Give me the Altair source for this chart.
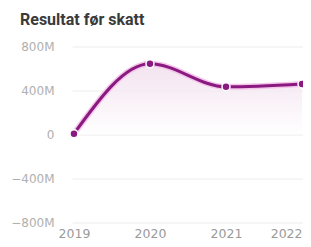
import altair as alt
import pandas as pd

years = [2019, 2020, 2021, 2022]
values = [5e6, 642e6, 432e6, 458e6]
y_ticks = [-800e6, -400e6, 0, 400e6, 800e6]

df = pd.DataFrame({"year": years, "value": values})

xscale = alt.Scale(domain=[2018.974, 2022.013], nice=False, zero=False)
yscale = alt.Scale(domain=[-800e6, 800e6], nice=False)

x = alt.X("year:Q", scale=xscale,
          axis=alt.Axis(values=years, format="d", grid=False, domain=False, ticks=False,
                        labelPadding=5, labelColor="#9a9a9a", labelFontSize=12.5,
                        labelFont="DejaVu Sans", title=None, labelFlush=False,
                        labelAlign={"condition": {"test": "datum.value == 2022", "value": "right"},
                                    "value": "center"}))
y = alt.Y("value:Q", scale=yscale,
          axis=alt.Axis(values=y_ticks, domain=False, ticks=False, grid=True,
                        gridColor="#ececec", gridWidth=1,
                        labelExpr="datum.value == 0 ? '0' : (datum.value < 0 ? '\u2212' : '') + abs(datum.value/1e6) + 'M'",
                        labelPadding=18, labelColor="#b0b0b0", labelFontSize=12,
                        labelFont="DejaVu Sans", title=None))

base = alt.Chart(df)

area = base.mark_area(
    interpolate="monotone",
    color=alt.Gradient(
        gradient="linear",
        stops=[alt.GradientStop(color="#f0dcec", offset=0),
               alt.GradientStop(color="#ffffff", offset=1)],
        x1=1, x2=1, y1=0, y2=1),
    opacity=0.8,
).encode(x=x, y=y, y2=alt.datum(0))

halo = base.mark_line(interpolate="monotone", color="#f3c6ea", strokeWidth=6).encode(x=x, y=y)
line = base.mark_line(interpolate="monotone", color="#8a1a80", strokeWidth=3).encode(x=x, y=y)
points = base.mark_point(filled=True, size=64, color="#8a1a80", stroke="white",
                         strokeWidth=1.5, opacity=1).encode(x=x, y=y)

chart = alt.layer(area, halo, line, points).properties(
    width=231, height=175.5,
    title=alt.TitleParams("Resultat før skatt", anchor="start", frame="group",
                          dx=-52, offset=13, fontSize=16, fontWeight="bold",
                          color="#3a3a3a", font="Roboto"),
    autosize=alt.AutoSizeParams(type="none"),
    padding={"left": 64, "top": 38.5, "right": 0, "bottom": 17},
).configure_view(stroke=None)

chart.save("out.html", embed_options={"renderer": "svg", "actions": False})
